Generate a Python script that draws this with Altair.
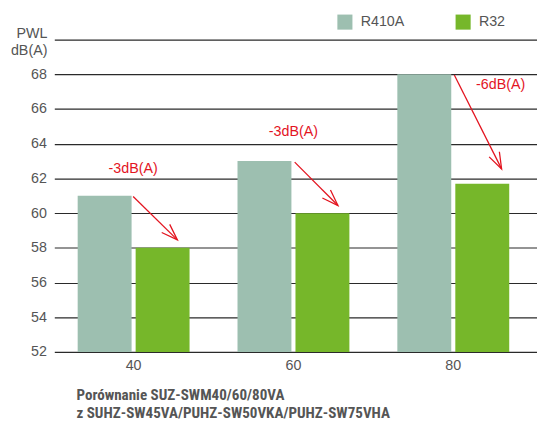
import altair as alt
import pandas as pd

# ---- data ----
sizes = ["40", "60", "80"]
series = ["R410A", "R32"]
r410a = [61.0, 63.0, 68.0]
r32 = [58.0, 60.0, 61.7]
y_ticks = [52, 54, 56, 58, 60, 62, 64, 66, 68, 70]

# annotations (x in index units of the category axis, y in dB(A))
ann_text = ["-3dB(A)", "-3dB(A)", "-6dB(A)"]
ann_tx = [0.490, 1.486, 2.774]
ann_ty = [62.57, 64.65, 67.41]
arr_x1 = [0.490, 1.494, 2.486]
arr_y1 = [60.96, 62.94, 67.96]
arr_x2 = [0.765, 1.763, 2.780]
arr_y2 = [58.46, 60.44, 62.55]
arr_angle = [134.4, 135.0, 153.3]

GRAY = "#555555"
RED = "#e3141f"
FONT = "Liberation Sans"
NARROW = "Roboto Condensed, Liberation Sans Narrow, Arial Narrow, DejaVu Sans Condensed, sans-serif"

bars_df = pd.DataFrame(
    {
        "size": sizes * 2,
        "refrigerant": ["R410A"] * 3 + ["R32"] * 3,
        "value": r410a + r32,
    }
)
ann_df = pd.DataFrame(
    {
        "text": ann_text,
        "tx": ann_tx,
        "ty": ann_ty,
        "x1": arr_x1,
        "y1": arr_y1,
        "x2": arr_x2,
        "y2": arr_y2,
        "angle": arr_angle,
    }
)

yscale = alt.Scale(domain=[52, 70], zero=False, nice=False)
yaxis = alt.Axis(
    values=y_ticks,
    labelExpr="datum.value == 70 ? '' : datum.label",
    labelOverlap=False,
    labelFontSize=14.5,
    labelColor=GRAY,
    labelFont=FONT,
    labelPadding=8,
    domain=False,
    ticks=False,
    grid=True,
    gridColor="#2a2a2a",
    gridWidth=1.2,
    title=["PWL", "dB(A)"],
    titleAngle=0,
    titleAlign="right",
    titleBaseline="alphabetic",
    titleX=-7.5,
    titleY=-2,
    titleFont=FONT,
    titleFontSize=14.5,
    titleFontWeight="normal",
    titleColor=GRAY,
    titleLineHeight=17,
)

bars = (
    alt.Chart(bars_df)
    .mark_bar()
    .encode(
        x=alt.X(
            "size:N",
            sort=sizes,
            scale=alt.Scale(paddingInner=0.3, paddingOuter=0.16, align=0.457),
            axis=alt.Axis(
                labelAngle=0,
                labelFontSize=14.5,
                labelColor=GRAY,
                labelFont=FONT,
                labelPadding=7,
                domain=False,
                ticks=False,
                title=[
                    "Porównanie SUZ-SWM40/60/80VA",
                    "z SUHZ-SW45VA/PUHZ-SW50VKA/PUHZ-SW75VHA",
                ],
                titleFont=NARROW,
                titleFontSize=15.3,
                titleFontWeight="bold",
                titleColor=GRAY,
                titleAlign="left",
                titleAnchor="start",
                titleBaseline="alphabetic",
                titleX=22,
                titleY=48.5,
                titleLineHeight=18.5,
            ),
        ),
        xOffset=alt.XOffset(
            "refrigerant:N", sort=series, scale=alt.Scale(paddingInner=0.07)
        ),
        y=alt.Y("value:Q", scale=yscale, axis=yaxis),
        y2=alt.Y2(datum=52),
        color=alt.Color(
            "refrigerant:N",
            sort=series,
            scale=alt.Scale(domain=series, range=["#9dbfb0", "#76b72a"]),
            legend=alt.Legend(
                title=None,
                orient="none",
                legendX=287,
                legendY=-26,
                direction="horizontal",
                symbolType="square",
                symbolSize=234,
                symbolStrokeWidth=0,
                labelFontSize=14.5,
                labelFont=FONT,
                labelColor=GRAY,
                labelOffset=8,
                columnPadding=51,
                padding=0,
            ),
        ),
    )
)

xq = alt.Scale(domain=[0, 3], nice=False, zero=False)

arrows = (
    alt.Chart(ann_df)
    .mark_rule(color=RED, strokeWidth=1.3)
    .encode(
        x=alt.X("x1:Q", scale=xq, axis=None),
        x2="x2:Q",
        y=alt.Y("y1:Q", scale=yscale, axis=yaxis),
        y2="y2:Q",
    )
)

heads = (
    alt.Chart(ann_df)
    .mark_point(
        shape="M-0.35,1L0,0L0.35,1",
        filled=False,
        stroke=RED,
        strokeWidth=1.3,
        size=1100,
        opacity=1,
    )
    .encode(
        x=alt.X("x2:Q", scale=xq, axis=None),
        y=alt.Y("y2:Q", scale=yscale, axis=yaxis),
        angle=alt.Angle("angle:Q", scale=None),
    )
)

labels = (
    alt.Chart(ann_df)
    .mark_text(color=RED, fontSize=14.5, font=FONT, baseline="middle", align="center")
    .encode(
        x=alt.X("tx:Q", scale=xq, axis=None),
        y=alt.Y("ty:Q", scale=yscale, axis=yaxis),
        text="text:N",
    )
)

chart = (
    alt.layer(bars, arrows, heads, labels)
    .resolve_scale(x="independent")
    .properties(
        width=490,
        height=317,
        autosize=alt.AutoSizeParams(type="none"),
        padding={"left": 47, "top": 29, "right": 0, "bottom": 69},
        background="white",
    )
    .configure_view(stroke=None)
)

chart.save("out.html", embed_options={"renderer": "svg", "actions": False})
